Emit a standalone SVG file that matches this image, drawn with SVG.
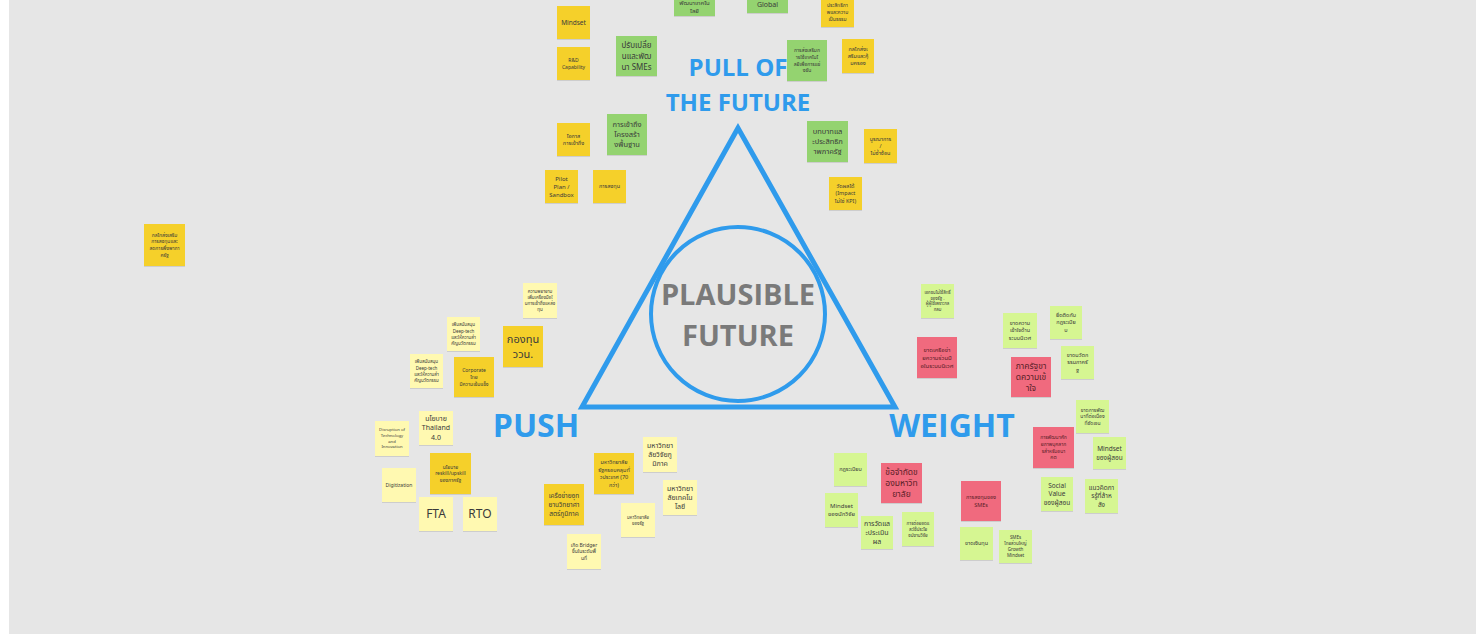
<svg xmlns="http://www.w3.org/2000/svg" width="1484" height="634" viewBox="0 0 1484 634">
<style>
.y{fill:#f5d02a}
.ly{fill:#fff9b1}
.g{fill:#94d36f}
.lg{fill:#d6f692}
.p{fill:#f06b7e}
.n rect{filter:url(#sh)}
.t{font-family:"Noto Sans","Noto Sans Thai","Open Sans",sans-serif;text-anchor:middle;fill:#3a3a3a}
.tp{fill:#5a1e28}
.big{font-family:"Open Sans","Noto Sans",sans-serif;font-weight:700;text-anchor:middle}
</style>
<defs>
<filter id="sh" x="-20%" y="-20%" width="140%" height="140%">
<feDropShadow dx="0" dy="0.6" stdDeviation="0.7" flood-color="#000" flood-opacity="0.18"/>
</filter>
</defs>
<rect x="0" y="0" width="1484" height="634" fill="#ffffff"/>
<rect x="9" y="0" width="1467" height="634" fill="#e6e6e6"/>

<g id="frame">
<polygon points="738,128 582,407 895,407" fill="none" stroke="#2f9bec" stroke-width="5" stroke-linejoin="miter"/>
<circle cx="738" cy="314" r="87" fill="none" stroke="#2f9bec" stroke-width="4"/>
</g>
<g id="connectors"></g>

<g id="labels">
<text class="big" x="738" y="76" font-size="24" fill="#2f9bec">PULL OF</text>
<text class="big" x="738" y="111" font-size="24" fill="#2f9bec">THE FUTURE</text>
<text class="big" x="738" y="305" font-size="29" fill="#7a7a7a">PLAUSIBLE</text>
<text class="big" x="738" y="346" font-size="29" fill="#7a7a7a">FUTURE</text>
<text class="big" x="536" y="437" font-size="32" fill="#2f9bec">PUSH</text>
<text class="big" x="952" y="437" font-size="32" fill="#2f9bec">WEIGHT</text>
</g>

<!-- top cluster -->
<g id="n-mindset" class="n"><rect class="y" x="557" y="6" width="33" height="33"/><text class="t" font-size="6.5" x="573.5" y="22.5"><tspan x="573.5" dy="0.35em">Mindset</tspan></text></g>
<g id="n-rd" class="n"><rect class="y" x="557" y="47" width="33" height="33"/><text class="t" font-size="5" x="573.5" y="63.5"><tspan x="573.5" dy="-0.325em">R&amp;D</tspan><tspan x="573.5" dy="1.35em">Capability</tspan></text></g>
<g id="n-smes" class="n"><rect class="g" x="616" y="36" width="41" height="40"/><text class="t" font-size="8" x="636.5" y="56"><tspan x="636.5" dy="-1em">ปรับเปลี่ย</tspan><tspan x="636.5" dy="1.35em">นและพัฒ</tspan><tspan x="636.5" dy="1.35em">นา SMEs</tspan></text></g>
<g id="n-tech" class="n"><rect class="g" x="674" y="-26" width="41" height="42"/><text class="t" font-size="6" x="694.5" y="5"><tspan x="694.5" dy="0">พัฒนาเทคโน</tspan><tspan x="694.5" dy="1.25em">โลยี</tspan></text></g>
<g id="n-global" class="n"><rect class="g" x="747" y="-28" width="41" height="41"/><text class="t" font-size="7" x="767.5" y="4.5"><tspan x="767.5" dy="0.35em">Global</tspan></text></g>
<g id="n-eff" class="n"><rect class="y" x="821" y="-6" width="33" height="33"/><text class="t" font-size="5" x="837.5" y="12"><tspan x="837.5" dy="-1em">ประสิทธิภา</tspan><tspan x="837.5" dy="1.35em">พและความ</tspan><tspan x="837.5" dy="1.35em">เป็นธรรม</tspan></text></g>
<g id="n-promote" class="n"><rect class="g" x="787" y="40" width="40" height="41"/><text class="t" font-size="5" x="807" y="60.5"><tspan x="807" dy="-1.675em">การส่งเสริมก</tspan><tspan x="807" dy="1.35em">ารใช้เทคโนโ</tspan><tspan x="807" dy="1.35em">ลยีเพื่อการแข่</tspan><tspan x="807" dy="1.35em">งขัน</tspan></text></g>
<g id="n-mech" class="n"><rect class="y" x="842" y="39" width="32" height="34"/><text class="t" font-size="5.5" x="858" y="56"><tspan x="858" dy="-1em">กลไกส่งเ</tspan><tspan x="858" dy="1.35em">สริมและคุ้</tspan><tspan x="858" dy="1.35em">มครอง</tspan></text></g>
<g id="n-role" class="n"><rect class="g" x="807" y="121" width="41" height="41"/><text class="t" font-size="7.5" x="827.5" y="141.5"><tspan x="827.5" dy="-1em">บทบาทแล</tspan><tspan x="827.5" dy="1.35em">ะประสิทธิภ</tspan><tspan x="827.5" dy="1.35em">าพภาครัฐ</tspan></text></g>
<g id="n-integ" class="n"><rect class="y" x="864" y="129" width="33" height="34"/><text class="t" font-size="5.5" x="880.5" y="146"><tspan x="880.5" dy="-1em">บูรณาการ</tspan><tspan x="880.5" dy="1.35em">/</tspan><tspan x="880.5" dy="1.35em">ไม่ซ้ำซ้อน</tspan></text></g>
<g id="n-impact" class="n"><rect class="y" x="829" y="177" width="33" height="33"/><text class="t" font-size="5.5" x="845.5" y="193.5"><tspan x="845.5" dy="-1em">วัดผลได้</tspan><tspan x="845.5" dy="1.35em">(Impact</tspan><tspan x="845.5" dy="1.35em">ไม่ใช่ KPI)</tspan></text></g>
<g id="n-infra" class="n"><rect class="g" x="607" y="114" width="40" height="41"/><text class="t" font-size="7.5" x="627" y="134.5"><tspan x="627" dy="-1em">การเข้าถึง</tspan><tspan x="627" dy="1.35em">โครงสร้า</tspan><tspan x="627" dy="1.35em">งพื้นฐาน</tspan></text></g>
<g id="n-access" class="n"><rect class="y" x="557" y="123" width="33" height="33"/><text class="t" font-size="5.5" x="573.5" y="139.5"><tspan x="573.5" dy="-0.325em">โอกาส</tspan><tspan x="573.5" dy="1.35em">การเข้าถึง</tspan></text></g>
<g id="n-pilot" class="n"><rect class="y" x="545" y="170" width="33" height="33"/><text class="t" font-size="6" x="561.5" y="186.5"><tspan x="561.5" dy="-1em">Pilot</tspan><tspan x="561.5" dy="1.35em">Plan /</tspan><tspan x="561.5" dy="1.35em">Sandbox</tspan></text></g>
<g id="n-invest" class="n"><rect class="y" x="593" y="170" width="33" height="33"/><text class="t" font-size="5.5" x="609.5" y="186.5"><tspan x="609.5" dy="0.35em">การลงทุน</tspan></text></g>
<g id="n-left" class="n"><rect class="y" x="144" y="224" width="41" height="42"/><text class="t" font-size="5" x="164.5" y="245"><tspan x="164.5" dy="-1.675em">กลไกส่งเสริม</tspan><tspan x="164.5" dy="1.35em">การลงทุนและ</tspan><tspan x="164.5" dy="1.35em">ลดการพึ่งพาภา</tspan><tspan x="164.5" dy="1.35em">ครัฐ</tspan></text></g>

<!-- push cluster -->
<g id="n-effort" class="n"><rect class="ly" x="523" y="283" width="34" height="35"/><text class="t" font-size="4.5" x="540" y="300.5"><tspan x="540" dy="-1.675em">ความพยายาม</tspan><tspan x="540" dy="1.35em">เพิ่มเครื่องมือใ</tspan><tspan x="540" dy="1.35em">นการเข้าถึงแหล่ง</tspan><tspan x="540" dy="1.35em">ทุน</tspan></text></g>
<g id="n-fund" class="n"><rect class="y" x="503" y="326" width="40" height="41"/><text class="t" font-size="11" x="523" y="346.5"><tspan x="523" dy="-0.325em">กองทุน</tspan><tspan x="523" dy="1.35em">ววน.</tspan></text></g>
<g id="n-deep1" class="n"><rect class="ly" x="447" y="317" width="33" height="34"/><text class="t" font-size="4.5" x="463.5" y="334"><tspan x="463.5" dy="-1.675em">เพิ่มสนับสนุน</tspan><tspan x="463.5" dy="1.35em">Deep-tech</tspan><tspan x="463.5" dy="1.35em">และให้ความสำ</tspan><tspan x="463.5" dy="1.35em">คัญนวัตกรรม</tspan></text></g>
<g id="n-deep2" class="n"><rect class="ly" x="410" y="354" width="33" height="34"/><text class="t" font-size="4.5" x="426.5" y="371"><tspan x="426.5" dy="-1.675em">เพิ่มสนับสนุน</tspan><tspan x="426.5" dy="1.35em">Deep-tech</tspan><tspan x="426.5" dy="1.35em">และให้ความสำ</tspan><tspan x="426.5" dy="1.35em">คัญนวัตกรรม</tspan></text></g>
<g id="n-corp" class="n"><rect class="y" x="454" y="357" width="40" height="40"/><text class="t" font-size="5" x="474" y="377"><tspan x="474" dy="-1em">Corporate</tspan><tspan x="474" dy="1.35em">ไทย</tspan><tspan x="474" dy="1.35em">มีความเข้มแข็ง</tspan></text></g>
<g id="n-disrupt" class="n"><rect class="ly" x="375" y="421" width="34" height="35"/><text class="t" font-size="4.2" x="392" y="438.5"><tspan x="392" dy="-1.675em">Disruption of</tspan><tspan x="392" dy="1.35em">Technology</tspan><tspan x="392" dy="1.35em">and</tspan><tspan x="392" dy="1.35em">Innovation</tspan></text></g>
<g id="n-th40" class="n"><rect class="ly" x="419" y="411" width="34" height="34"/><text class="t" font-size="7" x="436" y="428"><tspan x="436" dy="-1em">นโยบาย</tspan><tspan x="436" dy="1.35em">Thailand</tspan><tspan x="436" dy="1.35em">4.0</tspan></text></g>
<g id="n-reskill" class="n"><rect class="y" x="430" y="453" width="41" height="41"/><text class="t" font-size="5" x="450.5" y="473.5"><tspan x="450.5" dy="-1em">นโยบาย</tspan><tspan x="450.5" dy="1.35em">reskill/upskill</tspan><tspan x="450.5" dy="1.35em">ของภาครัฐ</tspan></text></g>
<g id="n-digit" class="n"><rect class="ly" x="382" y="468" width="34" height="34"/><text class="t" font-size="5" x="399" y="485"><tspan x="399" dy="0.35em">Digitization</tspan></text></g>
<g id="n-fta" class="n"><rect class="ly" x="419" y="497" width="34" height="34"/><text class="t" font-size="12" x="436" y="514"><tspan x="436" dy="0.35em">FTA</tspan></text></g>
<g id="n-rto" class="n"><rect class="ly" x="463" y="497" width="34" height="34"/><text class="t" font-size="12" x="480" y="514"><tspan x="480" dy="0.35em">RTO</tspan></text></g>

<!-- universities -->
<g id="n-uni-reg" class="n"><rect class="ly" x="643" y="437" width="34" height="35"/><text class="t" font-size="7" x="660" y="454.5"><tspan x="660" dy="-1em">มหาวิทยา</tspan><tspan x="660" dy="1.35em">ลัยวิจัยภู</tspan><tspan x="660" dy="1.35em">มิภาค</tspan></text></g>
<g id="n-uni-state" class="n"><rect class="y" x="594" y="453" width="40" height="41"/><text class="t" font-size="5.5" x="614" y="473.5"><tspan x="614" dy="-1.675em">มหาวิทยาลัย</tspan><tspan x="614" dy="1.35em">รัฐครอบคลุมทั่</tspan><tspan x="614" dy="1.35em">วประเทศ (70</tspan><tspan x="614" dy="1.35em">กว่า)</tspan></text></g>
<g id="n-uni-tech" class="n"><rect class="ly" x="663" y="480" width="34" height="35"/><text class="t" font-size="7" x="680" y="497.5"><tspan x="680" dy="-1em">มหาวิทยา</tspan><tspan x="680" dy="1.35em">ลัยเทคโน</tspan><tspan x="680" dy="1.35em">โลยี</tspan></text></g>
<g id="n-park" class="n"><rect class="y" x="544" y="484" width="40" height="41"/><text class="t" font-size="6.5" x="564" y="504.5"><tspan x="564" dy="-1em">เครือข่ายอุท</tspan><tspan x="564" dy="1.35em">ยานวิทยาศา</tspan><tspan x="564" dy="1.35em">สตร์ภูมิภาค</tspan></text></g>
<g id="n-uni-gov" class="n"><rect class="ly" x="621" y="503" width="34" height="34"/><text class="t" font-size="4.5" x="638" y="520"><tspan x="638" dy="-0.325em">มหาวิทยาลัย</tspan><tspan x="638" dy="1.35em">ของรัฐ</tspan></text></g>
<g id="n-bridger" class="n"><rect class="ly" x="567" y="534" width="34" height="35"/><text class="t" font-size="5" x="584" y="551.5"><tspan x="584" dy="-1em">เกิด Bridger</tspan><tspan x="584" dy="1.35em">ขึ้นในระดับพื้</tspan><tspan x="584" dy="1.35em">นที่</tspan></text></g>

<!-- weight cluster -->
<g id="n-private" class="n"><rect class="lg" x="921" y="284" width="33" height="34"/><text class="t" font-size="4.3" x="937.5" y="301"><tspan x="937.5" dy="-1.675em">เอกชนไม่ใช้สิทธิ์</tspan><tspan x="937.5" dy="1.35em">ของรัฐ -</tspan><tspan x="937.5" dy="1.35em">ผู้ผู้ใช้เพราะกล</tspan><tspan x="937.5" dy="1.35em">กลม</tspan></text></g>
<g id="n-network" class="n"><rect class="p" x="917" y="337" width="40" height="41"/><text class="t tp" font-size="6" x="937" y="357.5"><tspan x="937" dy="-1em">ขาดเครือข่า</tspan><tspan x="937" dy="1.35em">ยความร่วมมื</tspan><tspan x="937" dy="1.35em">อในระบบนิเวศ</tspan></text></g>
<g id="n-eco" class="n"><rect class="lg" x="1003" y="313" width="34" height="35"/><text class="t" font-size="5.5" x="1020" y="330.5"><tspan x="1020" dy="-1em">ขาดความ</tspan><tspan x="1020" dy="1.35em">เข้าใจด้าน</tspan><tspan x="1020" dy="1.35em">ระบบนิเวศ</tspan></text></g>
<g id="n-rules" class="n"><rect class="lg" x="1050" y="306" width="32" height="33"/><text class="t" font-size="5.5" x="1066" y="322.5"><tspan x="1066" dy="-1em">ยึดติดกับ</tspan><tspan x="1066" dy="1.35em">กฎระเบีย</tspan><tspan x="1066" dy="1.35em">บ</tspan></text></g>
<g id="n-govinno" class="n"><rect class="lg" x="1061" y="346" width="33" height="33"/><text class="t" font-size="5.5" x="1077.5" y="362.5"><tspan x="1077.5" dy="-1em">ขาดนวัตก</tspan><tspan x="1077.5" dy="1.35em">รรมภาครั</tspan><tspan x="1077.5" dy="1.35em">ฐ</tspan></text></g>
<g id="n-govund" class="n"><rect class="p" x="1011" y="357" width="40" height="40"/><text class="t tp" font-size="8.5" x="1031" y="377"><tspan x="1031" dy="-1em">ภาครัฐขา</tspan><tspan x="1031" dy="1.35em">ดความเข้</tspan><tspan x="1031" dy="1.35em">าใจ</tspan></text></g>
<g id="n-cont" class="n"><rect class="lg" x="1076" y="400" width="33" height="33"/><text class="t" font-size="5" x="1092.5" y="416.5"><tspan x="1092.5" dy="-1em">ขาดการพัฒ</tspan><tspan x="1092.5" dy="1.35em">นาที่ต่อเนื่อง</tspan><tspan x="1092.5" dy="1.35em">ที่ชัดเจน</tspan></text></g>
<g id="n-talent" class="n"><rect class="p" x="1033" y="427" width="41" height="41"/><text class="t tp" font-size="5" x="1053.5" y="447.5"><tspan x="1053.5" dy="-1.675em">การพัฒนาศัก</tspan><tspan x="1053.5" dy="1.35em">ยภาพบุคลาก</tspan><tspan x="1053.5" dy="1.35em">รสำหรับอนา</tspan><tspan x="1053.5" dy="1.35em">คต</tspan></text></g>
<g id="n-mind-teach" class="n"><rect class="lg" x="1093" y="437" width="33" height="32"/><text class="t" font-size="6.5" x="1109.5" y="453"><tspan x="1109.5" dy="-0.325em">Mindset</tspan><tspan x="1109.5" dy="1.35em">ของผู้สอน</tspan></text></g>
<g id="n-social" class="n"><rect class="lg" x="1041" y="477" width="32" height="34"/><text class="t" font-size="6.5" x="1057" y="494"><tspan x="1057" dy="-1em">Social</tspan><tspan x="1057" dy="1.35em">Value</tspan><tspan x="1057" dy="1.35em">ของผู้สอน</tspan></text></g>
<g id="n-concept" class="n"><rect class="lg" x="1085" y="479" width="33" height="34"/><text class="t" font-size="6.5" x="1101.5" y="496"><tspan x="1101.5" dy="-1em">แนวคิดกา</tspan><tspan x="1101.5" dy="1.35em">รรู้ที่ล้าห</tspan><tspan x="1101.5" dy="1.35em">ลัง</tspan></text></g>
<g id="n-regs" class="n"><rect class="lg" x="834" y="453" width="33" height="33"/><text class="t" font-size="5.5" x="850.5" y="469.5"><tspan x="850.5" dy="0.35em">กฎระเบียบ</tspan></text></g>
<g id="n-unilimit" class="n"><rect class="p" x="881" y="463" width="41" height="40"/><text class="t tp" font-size="8.5" x="901.5" y="483"><tspan x="901.5" dy="-1em">ข้อจำกัดข</tspan><tspan x="901.5" dy="1.35em">องมหาวิท</tspan><tspan x="901.5" dy="1.35em">ยาลัย</tspan></text></g>
<g id="n-mind-res" class="n"><rect class="lg" x="825" y="493" width="33" height="34"/><text class="t" font-size="6" x="841.5" y="510"><tspan x="841.5" dy="-0.325em">Mindset</tspan><tspan x="841.5" dy="1.35em">ของนักวิจัย</tspan></text></g>
<g id="n-eval" class="n"><rect class="lg" x="861" y="516" width="32" height="33"/><text class="t" font-size="7" x="877" y="532.5"><tspan x="877" dy="-1em">การวัดแล</tspan><tspan x="877" dy="1.35em">ะประเมิน</tspan><tspan x="877" dy="1.35em">ผล</tspan></text></g>
<g id="n-util" class="n"><rect class="lg" x="902" y="512" width="32" height="34"/><text class="t" font-size="4.5" x="918" y="529"><tspan x="918" dy="-1em">การต่อยอดแ</tspan><tspan x="918" dy="1.35em">ละใช้ประโย</tspan><tspan x="918" dy="1.35em">ชน์งานวิจัย</tspan></text></g>
<g id="n-sme-inv" class="n"><rect class="p" x="961" y="481" width="40" height="40"/><text class="t tp" font-size="5.5" x="981" y="501"><tspan x="981" dy="-0.325em">การลงทุนของ</tspan><tspan x="981" dy="1.35em">SMEs</tspan></text></g>
<g id="n-nofund" class="n"><rect class="lg" x="960" y="527" width="33" height="33"/><text class="t" font-size="5.5" x="976.5" y="543.5"><tspan x="976.5" dy="0.35em">ขาดเงินทุน</tspan></text></g>
<g id="n-growth" class="n"><rect class="lg" x="999" y="530" width="33" height="33"/><text class="t" font-size="4.5" x="1015.5" y="546.5"><tspan x="1015.5" dy="-1.675em">SMEs</tspan><tspan x="1015.5" dy="1.35em">ไทยส่วนใหญ่</tspan><tspan x="1015.5" dy="1.35em">Growth</tspan><tspan x="1015.5" dy="1.35em">Mindset</tspan></text></g>
</svg>
